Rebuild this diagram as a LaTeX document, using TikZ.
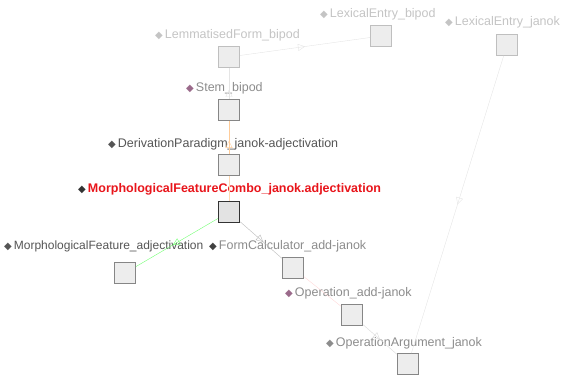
\documentclass[tikz,border=0pt]{standalone}
\usepackage{fontspec}
\setmainfont{Liberation Sans}
\newfontfamily\symfont{DejaVu Sans}
\usepackage{xcolor}
\usepackage{tikz}
\usetikzlibrary{arrows.meta,decorations.markings}
\definecolor{faint}{HTML}{C4C4C4}
\definecolor{mid}{HTML}{8C8C8C}
\definecolor{dark}{HTML}{555555}
\definecolor{plum}{HTML}{9A6A8A}
\definecolor{focus}{HTML}{E8151B}
\tikzset{
  box/.style    = {rectangle, draw=gray!95, thick, fill=gray!14,
                   minimum size=21pt, inner sep=0pt},
  focusbox/.style = {box, draw=black!80, very thick, fill=gray!22},
  lbl/.style    = {anchor=west, inner sep=0pt, font=\fontsize{12.5}{13}\selectfont},
  link/.style   = {draw=gray!30, thin},
  midtip/.style = {postaction={decorate}, decoration={markings,
                   mark=at position #1 with {\arrow{Triangle[open,length=7pt,width=7pt]}}}},
}
\newcommand{\dmd}[1]{\textcolor{#1}{\symfont\fontsize{10}{10}\selectfont ◆}\,}

\begin{document}
\begin{tikzpicture}[x=1pt,y=-1pt]
  \useasboundingbox (0,0) rectangle (563,376);

  % concept boxes
  \node[box,draw=gray!50] (lemf)  at (229,57)  {};
  \node[box,draw=gray!50] (lexb)  at (381,36)  {};
  \node[box,draw=gray!50] (lexj)  at (507,45)  {};
  \node[box] (stem)  at (229,110) {};
  \node[box] (dpar)  at (229,165) {};
  \node[focusbox] (combo) at (229,212) {};
  \node[box] (mfeat) at (125,273) {};
  \node[box] (fcalc) at (293,268) {};
  \node[box] (oper)  at (352,315) {};
  \node[box] (oarg)  at (408,364) {};

  % labels
  \node[lbl,text=faint] (lemfl) at (155,35) {\dmd{faint}LemmatisedForm\_bipod};
  \node[lbl,text=faint] (lexbl) at (320,14) {\dmd{faint}LexicalEntry\_bipod};
  \node[lbl,text=faint] (lexjl) at (445,22) {\dmd{faint}LexicalEntry\_janok};
  \node[lbl,text=mid]   (steml) at (186,88) {\dmd{plum}Stem\_bipod};
  \node[lbl,text=dark]  (dparl) at (108,144) {\dmd{dark}DerivationParadigm\_janok-adjectivation};
  \node[lbl,text=focus,font=\fontsize{12.5}{13}\selectfont\bfseries] (combol) at (78,189)
    {\dmd{black!80}MorphologicalFeatureCombo\_janok.adjectivation};
  \node[lbl,text=dark,font=\fontsize{12}{13}\selectfont] (mfeatl) at (4,246)
    {\dmd{dark}MorphologicalFeature\_adjectivation};
  \node[lbl,text=mid]   (fcalcl) at (209,246) {\dmd{black!75}FormCalculator\_add-janok};
  \node[lbl,text=mid]   (operl)  at (285,293) {\dmd{plum}Operation\_add-janok};
  \node[lbl,text=mid]   (oargl)  at (326,343) {\dmd{mid}OperationArgument\_janok};

  % links
  \draw[link,draw=gray!20,midtip=0.5] (lemf) -- (lexb);
  \draw[link,draw=gray!20,midtip=0.3] (stem) -- (lemf);
  \draw[link,draw=orange!40,midtip=0.4] (dpar) -- (stem);
  \draw[link,draw=orange!30] (combo) -- (dpar);
  \draw[link,draw=green!55,midtip=0.55] (combo) -- (mfeat);
  \draw[link,draw=gray!55,midtip=0.55] (combo) -- (fcalc);
  \draw[link,draw=pink!60] (fcalc) -- (oper);
  \draw[link,midtip=0.5] (oper) -- (oarg);
  \draw[link,draw=gray!20,midtip=0.5] (lexj) -- (oarg);
\end{tikzpicture}
\end{document}
